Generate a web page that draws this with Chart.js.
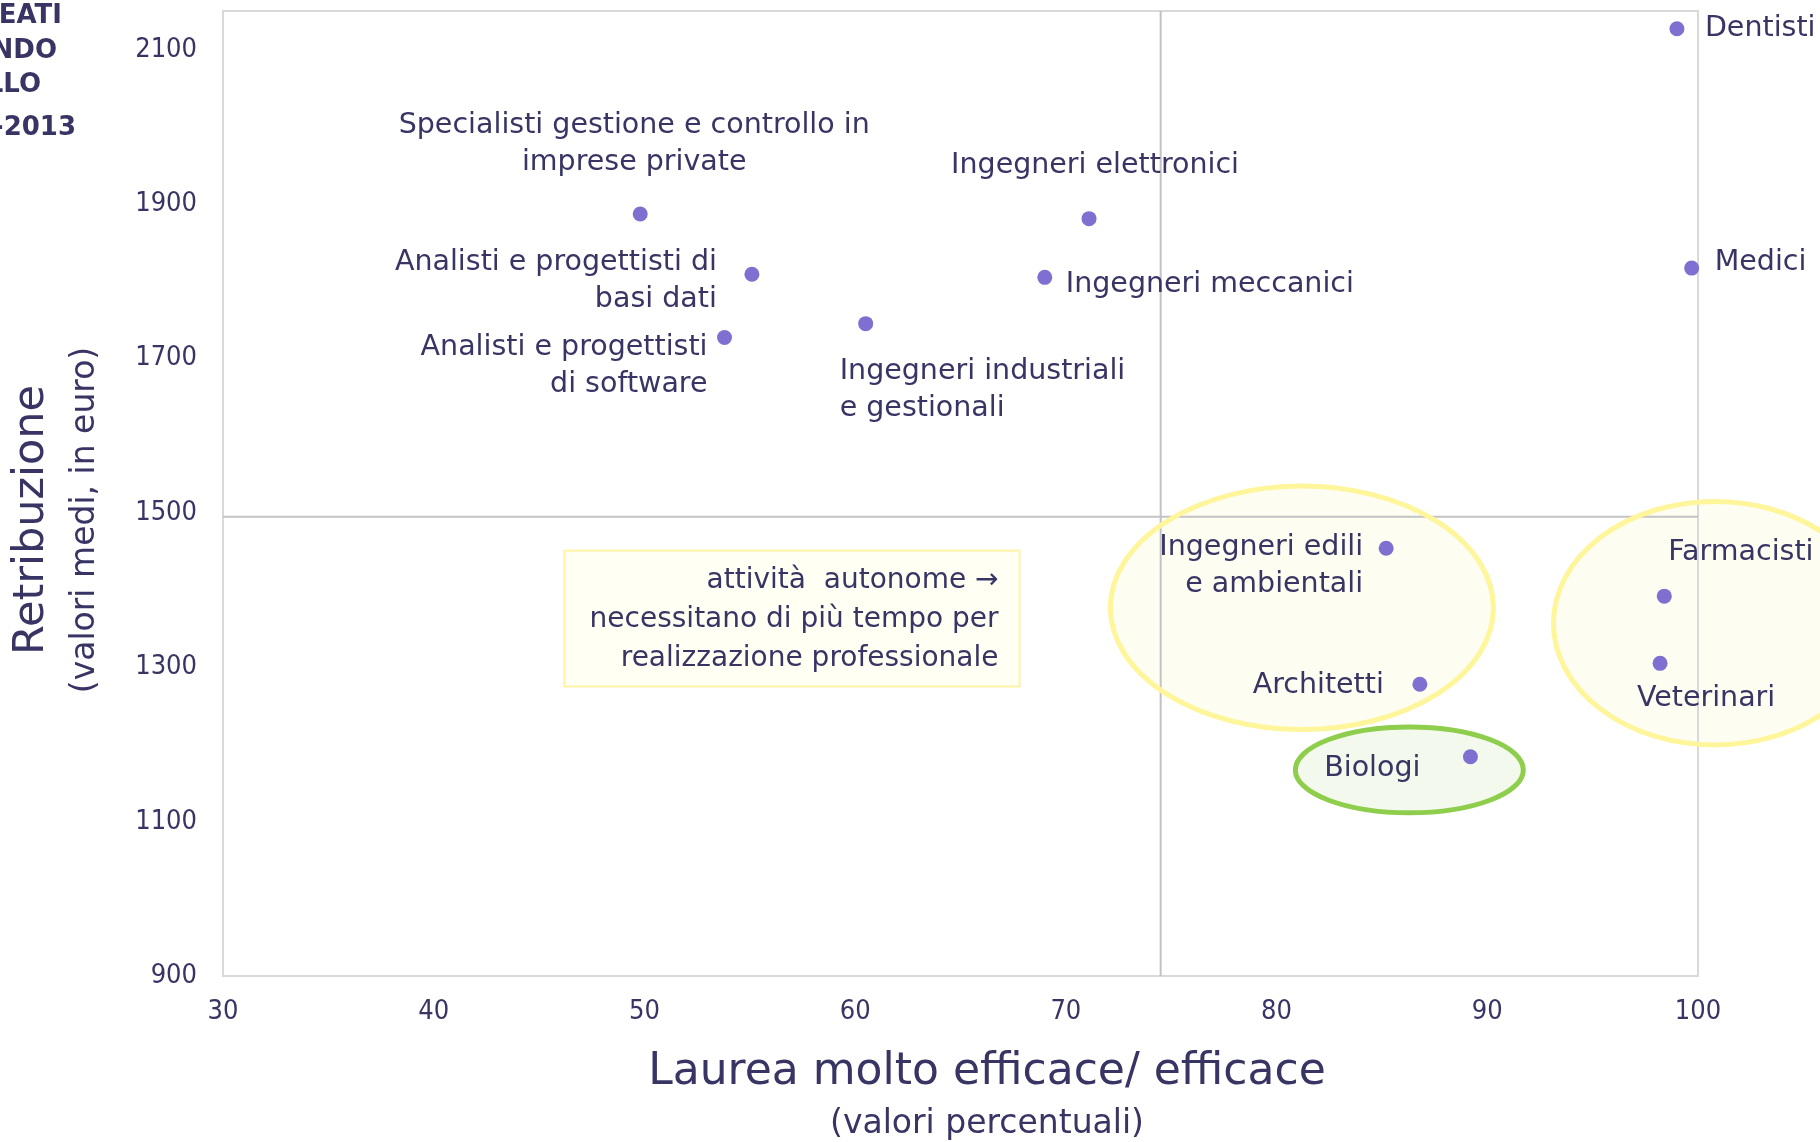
<!DOCTYPE html>
<html>
<head>
<meta charset="utf-8">
<script src="https://cdn.jsdelivr.net/npm/chart.js@4.4.1/dist/chart.umd.min.js"></script>
<style>
  html, body { margin: 0; padding: 0; background: #fff; }
</style>
</head>
<body>
<canvas id="myChart" width="1820" height="1142"></canvas>
<script>
// professions (multi-line labels kept as arrays of lines)
const categories = [
  ['Dentisti'],
  ['Medici'],
  ['Specialisti gestione e controllo in', 'imprese private'],
  ['Ingegneri elettronici'],
  ['Analisti e progettisti di', 'basi dati'],
  ['Ingegneri meccanici'],
  ['Ingegneri industriali', 'e gestionali'],
  ['Analisti e progettisti', 'di software'],
  ['Ingegneri edili', 'e ambientali'],
  ['Farmacisti'],
  ['Veterinari'],
  ['Architetti'],
  ['Biologi']
]
// laurea molto efficace/efficace (%)
const efficacia = [99.0, 99.7, 49.8, 71.1, 55.1, 69.0, 60.5, 53.8, 85.2, 98.4, 98.2, 86.8, 89.2]
// retribuzione media (euro)
const retribuzione = [2127, 1817, 1887, 1881, 1809, 1805, 1745, 1727, 1454, 1392, 1305, 1278, 1184]

const xTicks = [30, 40, 50, 60, 70, 80, 90, 100]
const yTicks = [900, 1100, 1300, 1500, 1700, 1900, 2100]

// quadrant lines
const refX = 74.5
const refY = 1495

const noteLines = ['attività  autonome \u2192', 'necessitano di più tempo per', 'realizzazione professionale']
const sideNotes = ['EATI', 'NDO', 'LLO', '-2013']

// label placement next to each point: offset in px, first line relative
const labelPos = [
  {dx: 28, dy: 0, align: 'left'},
  {dx: 23, dy: -5, align: 'left'},
  {dx: -6, dy: -88, align: 'center'},
  {dx: 6, dy: -53, align: 'center'},
  {dx: -35, dy: -12, align: 'right'},
  {dx: 21, dy: 7, align: 'left'},
  {dx: -26, dy: 48, align: 'left'},
  {dx: -17, dy: 10, align: 'right'},
  {dx: -23, dy: -1, align: 'right'},
  {dx: 4, dy: -44, align: 'left'},
  {dx: 46, dy: 35, align: 'center'},
  {dx: -36, dy: 1, align: 'right'},
  {dx: -50, dy: 12, align: 'right'}
]

// highlight ellipses, in data units
const groups = [
  {cx: 81.2, cy: 1377, rx: 9.09, ry: 157.7, stroke: '#fff59b', fill: 'rgba(254,252,232,0.6)'},
  {cx: 100.8, cy: 1357, rx: 7.66, ry: 157.7, stroke: '#fff59b', fill: 'rgba(254,252,232,0.6)'},
  {cx: 86.3, cy: 1167, rx: 5.41, ry: 55.6, stroke: '#8fce4c', fill: 'rgba(238,247,230,0.7)'}
]
const noteBox = {x1: 46.2, x2: 67.8, y1: 1451, y2: 1275}

const TEXT = '#383564'
const FONT = "'DejaVu Sans'"
const COND = "'DejaVu Sans Condensed', 'DejaVu Sans'"

const decor = {
  id: 'decor',
  beforeDatasetsDraw(chart) {
    const {ctx, chartArea: a, scales: {x, y}} = chart
    ctx.save()
    const ell = (g) => {
      ctx.beginPath()
      ctx.ellipse(x.getPixelForValue(g.cx), y.getPixelForValue(g.cy),
        Math.abs(x.getPixelForValue(g.cx + g.rx) - x.getPixelForValue(g.cx)),
        Math.abs(y.getPixelForValue(g.cy + g.ry) - y.getPixelForValue(g.cy)), 0, 0, Math.PI * 2)
    }
    groups.forEach(g => { ell(g); ctx.fillStyle = g.fill; ctx.fill() })

    // frame
    ctx.strokeStyle = '#d9d9d9'
    ctx.lineWidth = 2
    ctx.strokeRect(a.left, a.top, a.right - a.left, a.bottom - a.top)
    // quadrant lines
    ctx.strokeStyle = '#c3c3c3'
    const px = x.getPixelForValue(refX), py = y.getPixelForValue(refY)
    ctx.beginPath()
    ctx.moveTo(px, a.top); ctx.lineTo(px, a.bottom)
    ctx.moveTo(a.left, py); ctx.lineTo(a.right, py)
    ctx.stroke()

    groups.forEach(g => { ell(g); ctx.lineWidth = 5; ctx.strokeStyle = g.stroke; ctx.stroke() })

    // note box
    const bx1 = x.getPixelForValue(noteBox.x1), bx2 = x.getPixelForValue(noteBox.x2)
    const by1 = y.getPixelForValue(noteBox.y1), by2 = y.getPixelForValue(noteBox.y2)
    ctx.fillStyle = '#fffff4'
    ctx.fillRect(bx1, by1, bx2 - bx1, by2 - by1)
    ctx.strokeStyle = '#fff3a6'
    ctx.lineWidth = 2
    ctx.strokeRect(bx1, by1, bx2 - bx1, by2 - by1)
    ctx.fillStyle = TEXT
    ctx.font = '28px ' + FONT
    ctx.textAlign = 'right'
    ctx.textBaseline = 'middle'
    noteLines.forEach((t, i) => ctx.fillText(t, bx2 - 21, by1 + 30 + i * 39))
    ctx.restore()
  },
  afterDatasetsDraw(chart) {
    const {ctx} = chart
    const pts = chart.getDatasetMeta(0).data
    ctx.save()
    ctx.fillStyle = TEXT
    ctx.font = '28.5px ' + FONT
    ctx.textBaseline = 'middle'
    categories.forEach((lines, i) => {
      const p = labelPos[i]
      ctx.textAlign = p.align
      lines.forEach((t, j) => ctx.fillText(t, pts[i].x + p.dx, pts[i].y + p.dy + j * 37))
    })
    ctx.restore()
  },
  afterDraw(chart) {
    const {ctx} = chart
    ctx.save()
    ctx.fillStyle = TEXT
    ctx.textAlign = 'center'
    ctx.textBaseline = 'middle'
    // y title
    ctx.save()
    ctx.translate(32, 520)
    ctx.rotate(-Math.PI / 2)
    ctx.font = '43px ' + FONT
    ctx.fillText('Retribuzione', 0, 0)
    ctx.restore()
    ctx.save()
    ctx.translate(85, 520)
    ctx.rotate(-Math.PI / 2)
    ctx.font = '33px ' + FONT
    ctx.fillText('(valori medi, in euro)', 0, 0)
    ctx.restore()
    // x title
    ctx.font = '44px ' + FONT
    ctx.fillText('Laurea molto efficace/ efficace', 987, 1073)
    ctx.font = '33px ' + FONT
    ctx.fillText('(valori percentuali)', 987, 1124)
    // clipped heading at the left edge
    ctx.font = 'bold 26px ' + FONT
    ctx.textAlign = 'right'
    const sy = [16, 51, 85, 128], sx = [62, 57, 41, 76]
    sideNotes.forEach((t, i) => ctx.fillText(t, sx[i], sy[i]))
    ctx.restore()
  }
}

const ctx = document.getElementById('myChart').getContext('2d')
const chart = new Chart(ctx, {
  type: 'scatter',
  data: {
    datasets: [{
      data: efficacia.map((v, i) => ({x: v, y: retribuzione[i]})),
      backgroundColor: '#7f6fd0',
      borderWidth: 0,
      pointRadius: 7.5,
      pointHoverRadius: 7.5,
      clip: false
    }]
  },
  options: {
    responsive: false,
    devicePixelRatio: 1,
    animation: false,
    layout: {padding: {top: 11, right: 122, left: 0, bottom: 0}},
    plugins: {legend: {display: false}, tooltip: {enabled: false}},
    scales: {
      x: {
        type: 'linear',
        min: 30,
        max: 100,
        afterBuildTicks: s => { s.ticks = xTicks.map(v => ({value: v})) },
        afterFit: s => { s.height = 166; s.paddingLeft = 0; s.paddingRight = 0 },
        grid: {display: false, drawTicks: false},
        border: {display: false},
        ticks: {color: TEXT, font: {family: COND, size: 27}, padding: 20, maxRotation: 0,
          callback: v => String(v)}
      },
      y: {
        type: 'linear',
        min: 900,
        max: 2150,
        afterBuildTicks: s => { s.ticks = yTicks.map(v => ({value: v})) },
        afterFit: s => { s.width = 223; s.paddingTop = 0; s.paddingBottom = 0 },
        grid: {display: false, drawTicks: false},
        border: {display: false},
        ticks: {color: TEXT, font: {family: COND, size: 27}, padding: 26,
          callback: v => String(v)}
      }
    }
  },
  plugins: [decor]
})
</script>
</body>
</html>
